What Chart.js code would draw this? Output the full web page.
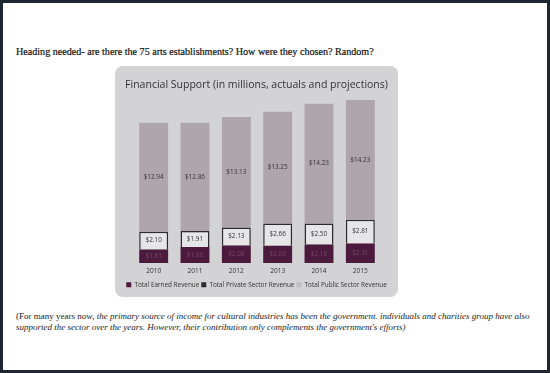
<!DOCTYPE html>
<html>
<head>
<meta charset="utf-8">
<script src="https://cdn.jsdelivr.net/npm/chart.js@4.4.1/dist/chart.umd.min.js"></script>
<style>
  html, body { margin: 0; padding: 0; background: #fff; }
  #frame { position: absolute; left: 0; top: 0; width: 550px; height: 373px; box-sizing: border-box; border: 3px solid #1d2731; }
  #heading { position: absolute; left: 16px; top: 46px; font: 10.1px "Liberation Serif", serif; color: #111; white-space: nowrap; -webkit-text-stroke: 0.2px #111; }
  #panel { position: absolute; left: 115px; top: 66px; width: 283px; height: 231px; background: #d3d3d5; border-radius: 8px; }
  #myChart { position: absolute; left: 95px; top: 66px; }
  #foot { position: absolute; left: 16px; top: 311px; font: 9px/11px "Liberation Serif", serif; color: #222; white-space: nowrap; }
</style>
</head>
<body>
<div id="frame"></div>
<div id="heading">Heading needed- are there the 75 arts establishments? How were they chosen? Random?</div>
<div id="panel"></div>
<canvas id="myChart" width="323" height="240"></canvas>
<div id="foot">(For many years now, <i>the primary source of income for cultural industries has been the government. individuals and charities group have also<br>supported the sector over the years. However, their contribution only complements the government's efforts)</i></div>
<script>
const years = ["2010", "2011", "2012", "2013", "2014", "2015"];
const earned = [1.61, 1.88, 2.08, 2.03, 2.18, 2.31];
const privateSector = [2.10, 1.91, 2.13, 2.66, 2.50, 2.81];
const publicSector = [12.94, 12.86, 13.13, 13.25, 14.23, 14.23];

const legendColors = ["#4b1a3c", "#2b2b31", "#bfbfc3"];
const labelColors = ["#75496a", "#333", "#333"];
const sans = "'Open Sans', sans-serif";
const titleText = "Financial Support (in millions, actuals and projections)";

// pick a font size so a text gets the width it has in the picture
const measureCtx = document.createElement("canvas").getContext("2d");
function fitSize(text, width) {
    measureCtx.font = "10px " + sans;
    return 10 * width / measureCtx.measureText(text).width;
}
const titleSize = fitSize(titleText, 263);
const legendSize = fitSize("Total Earned Revenue", 65);
const valueSize = fitSize("$12.94", 20);
const tickSize = fitSize("2010", 15);

// writes each value in the middle of its segment
const valueLabels = {
    id: "valueLabels",
    afterDatasetsDraw(chart) {
        const ctx = chart.ctx;
        ctx.save();
        ctx.font = valueSize + "px " + sans;
        ctx.textAlign = "center";
        ctx.textBaseline = "middle";
        chart.data.datasets.forEach(function(ds, i) {
            chart.getDatasetMeta(i).data.forEach(function(bar, j) {
                let mid = (bar.y + bar.base) / 2;
                ctx.fillStyle = labelColors[i];
                ctx.fillText("$" + ds.data[j].toFixed(2), bar.x, mid);
            });
        });
        ctx.restore();
    }
};

new Chart("myChart", {
    type: "bar",
    data: {
        labels: years,
        datasets: [{
            label: "Total Earned Revenue",
            data: earned,
            backgroundColor: "#4b1a3c"
        }, {
            label: "Total Private Sector Revenue",
            data: privateSector,
            backgroundColor: "#e6e6e8",
            borderColor: "#2b2b2b",
            borderWidth: 1.5
        }, {
            label: "Total Public Sector Revenue",
            data: publicSector,
            backgroundColor: "#afa6ac"
        }]
    },
    options: {
        responsive: false,
        animation: false,
        layout: { padding: { bottom: 8 } },
        datasets: { bar: { categoryPercentage: 1, barPercentage: 0.7 } },
        scales: {
            x: {
                stacked: true,
                grid: { display: false, drawTicks: false },
                border: { display: false },
                ticks: { color: "#333", padding: 4.4, font: { family: sans, size: tickSize } }
            },
            y: {
                stacked: true,
                min: 0,
                max: 20,
                grid: { display: false },
                border: { display: false },
                ticks: { display: false },
                afterFit: function(scale) { scale.width = 38; }
            },
            yRight: {
                position: "right",
                grid: { display: false },
                border: { display: false },
                ticks: { display: false },
                afterFit: function(scale) { scale.width = 37; }
            }
        },
        plugins: {
            title: {
                display: true,
                text: titleText,
                color: "#333",
                font: { family: sans, size: titleSize, weight: "normal" },
                padding: { top: 19 - 0.6 * titleSize, bottom: 9.5 - 0.6 * titleSize }
            },
            legend: {
                position: "bottom",
                labels: {
                    boxWidth: 5,
                    boxHeight: 5,
                    padding: 2,
                    color: "#333",
                    font: { family: sans, size: legendSize },
                    generateLabels: function(chart) {
                        return chart.data.datasets.map(function(ds, i) {
                            return {
                                text: ds.label,
                                fillStyle: legendColors[i],
                                strokeStyle: legendColors[i],
                                lineWidth: 0,
                                fontColor: "#333",
                                datasetIndex: i
                            };
                        });
                    }
                }
            },
            tooltip: { enabled: false }
        }
    },
    plugins: [valueLabels]
});
</script>
</body>
</html>
